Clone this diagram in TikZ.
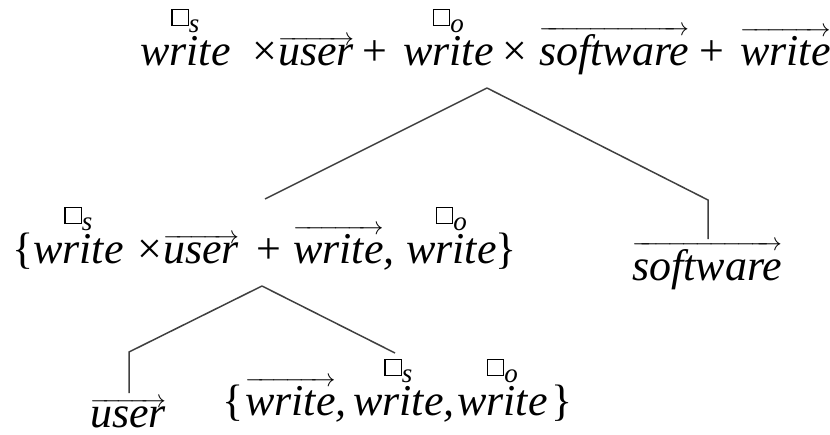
\documentclass[tikz,border=0pt]{standalone}
\usepackage{fontspec}
\setmainfont{Liberation Serif}

% small square with an italic subscript
\newcommand\bx[1]{{\setlength\fboxsep{0pt}\setlength\fboxrule{1.3pt}%
  \fbox{\rule{0pt}{15pt}\hspace{15pt}}}%
  \raisebox{-7pt}{\fontsize{27}{27}\selectfont\itshape #1}}
% put a label centred above a word
\newcommand\stk[2]{\leavevmode\hbox{\setbox0\hbox{#2}%
  \rlap{\hbox to \wd0{\hss\raisebox{40pt}{#1}\hss}}\box0}}
% word with a vector arrow over it
\newcommand\vect[1]{$\overrightarrow{\hbox{#1}}$}

\tikzset{
  expr/.style={anchor=base west, inner sep=0pt, font=\fontsize{44}{50}\selectfont\itshape},
  op/.style={anchor=base west, inner sep=0pt, font=\fontsize{44}{50}\selectfont},
  branch/.style={draw=black!75, line width=1.5pt}
}

\begin{document}
\begin{tikzpicture}[x=1pt, y=-1pt]
\useasboundingbox (0,0) rectangle (830,434);

% first line
\node[expr] (a1) at (140,65) {\stk{\bx{s}}{write}};
\node[op]   (a2) at (252,65) {×};
\node[expr] (a3) at (278,65) {\vect{user}};
\node[op]   (a4) at (362,65) {+};
\node[expr] (a5) at (403,65) {\stk{\bx{o}}{write}};
\node[op]   (a6) at (502,65) {×};
\node[expr] (a7) at (539,65) {\vect{software}};
\node[op]   (a8) at (699,65) {+};
\node[expr] (a9) at (740,65) {\vect{write}};

% second line
\node[op]   (b1) at (12,263) {\{};
\node[expr] (b2) at (33,263) {\stk{\bx{s}}{write}};
\node[op]   (b3) at (137,263) {×};
\node[expr] (b4) at (163,263) {\vect{user}};
\node[op]   (b5) at (256,263) {+};
\node[expr] (b6) at (293,263) {\vect{write},};
\node[expr] (b7) at (406,263) {\stk{\bx{o}}{write}};
\node[op]   (b8) at (495,263) {\}};

\node[expr] (sw) at (632,280) {\vect{software}};

% third line
\node[expr] (usr) at (90,427) {\vect{user}};
\node[op]   (c1) at (222,415) {\{};
\node[expr] (c2) at (245,415) {\vect{write},};
\node[expr] (c3) at (353,415) {\stk{\bx{s}}{write},};
\node[expr] (c4) at (457,415) {\stk{\bx{o}}{write}};
\node[op]   (c5) at (551,415) {\}};

% branch points and branch ends
\coordinate (j1) at (487,88);
\coordinate (e1) at (265,199);
\coordinate (k1) at (708,200);
\coordinate (e2) at (708,239);
\coordinate (j2) at (262,286);
\coordinate (k2) at (129,352);
\coordinate (e3) at (129,393);
\coordinate (e4) at (395,353);

\draw[branch] (j1) -- (e1);
\draw[branch] (j1) -- (k1) -- (e2);
\draw[branch] (j2) -- (k2) -- (e3);
\draw[branch] (j2) -- (e4);
\end{tikzpicture}
\end{document}
